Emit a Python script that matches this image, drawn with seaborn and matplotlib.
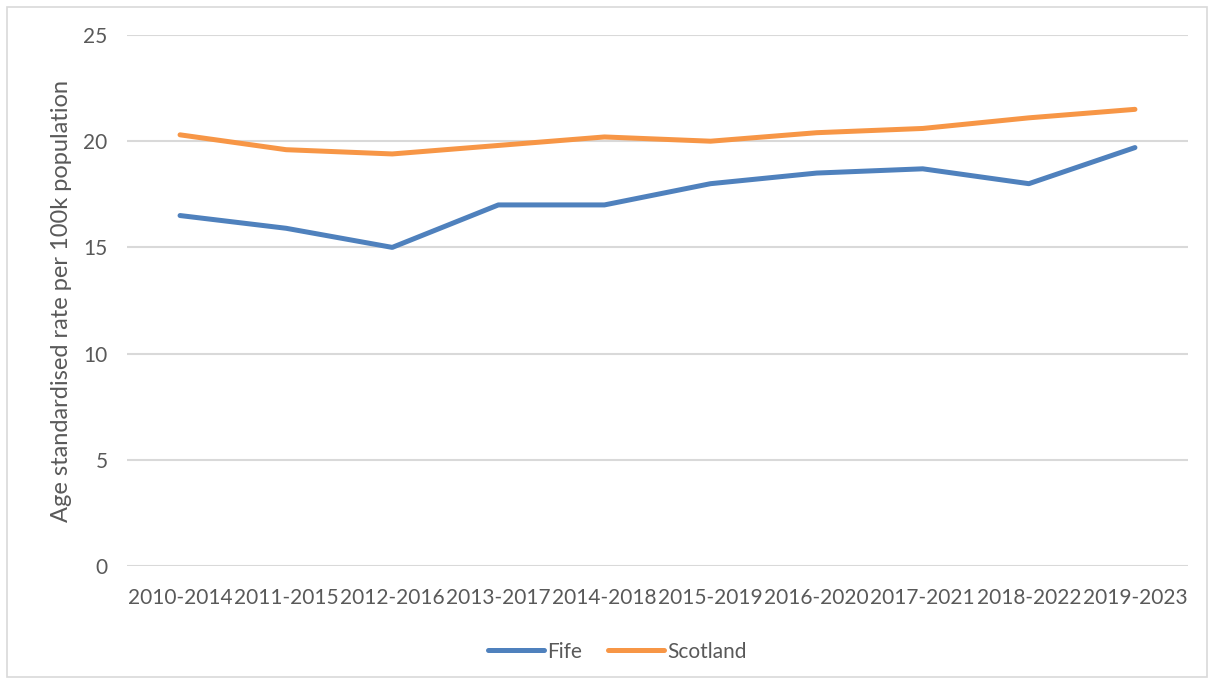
import matplotlib
matplotlib.use("Agg")
import matplotlib.pyplot as plt
import seaborn as sns
import pandas as pd
from matplotlib.patches import Rectangle

periods = ["2010-2014", "2011-2015", "2012-2016", "2013-2017", "2014-2018",
           "2015-2019", "2016-2020", "2017-2021", "2018-2022", "2019-2023"]
fife = [16.5, 15.9, 15.0, 17.0, 17.0, 18.0, 18.5, 18.7, 18.0, 19.7]
scotland = [20.3, 19.6, 19.4, 19.8, 20.2, 20.0, 20.4, 20.6, 21.1, 21.5]
series_names = ["Fife", "Scotland"]
y_ticks = [0, 5, 10, 15, 20, 25]

df = pd.DataFrame({
    "period": periods * 2,
    "value": fife + scotland,
    "area": [series_names[0]] * len(periods) + [series_names[1]] * len(periods),
})

sns.set_theme(style="white")
plt.rcParams["font.family"] = ["Lato", "DejaVu Sans"]
text_color = "#595959"

fig = plt.figure(figsize=(12.14, 6.84), dpi=100)
ax = fig.add_axes([127 / 1214, 1 - 566 / 684, (1188 - 127) / 1214, (566 - 35) / 684])

palette = {"Fife": "#4F81BD", "Scotland": "#F79646"}
sns.lineplot(data=df, x="period", y="value", hue="area", palette=palette,
             linewidth=3.6, ax=ax, sort=False, solid_capstyle="round")

ax.set_xlim(-0.5, len(periods) - 0.5)
ax.set_ylim(0, 25)
ax.set_yticks(y_ticks)
ax.yaxis.grid(True, color="#D9D9D9", linewidth=1.5)
ax.set_axisbelow(True)
for s in ax.spines.values():
    s.set_visible(False)
ax.tick_params(axis="both", length=0, colors=text_color, labelsize=15)
ax.tick_params(axis="y", pad=14)
ax.tick_params(axis="x", pad=16)
ax.set_xlabel("")
ax.set_ylabel("Age standardised rate per 100k population", color=text_color,
              fontsize=17, labelpad=8)

leg = ax.legend(loc="upper center", bbox_to_anchor=(0.462, -0.107), ncol=2,
                frameon=False, fontsize=15, handlelength=2.7, handletextpad=0.15,
                columnspacing=1.25)
for t in leg.get_texts():
    t.set_color(text_color)

fig.patches.append(Rectangle((7 / 1214, 7 / 684), 1200 / 1214, 670 / 684,
                             transform=fig.transFigure, fill=False,
                             edgecolor="#D9D9D9", linewidth=1.2))

fig.savefig("out.png", dpi=100)
